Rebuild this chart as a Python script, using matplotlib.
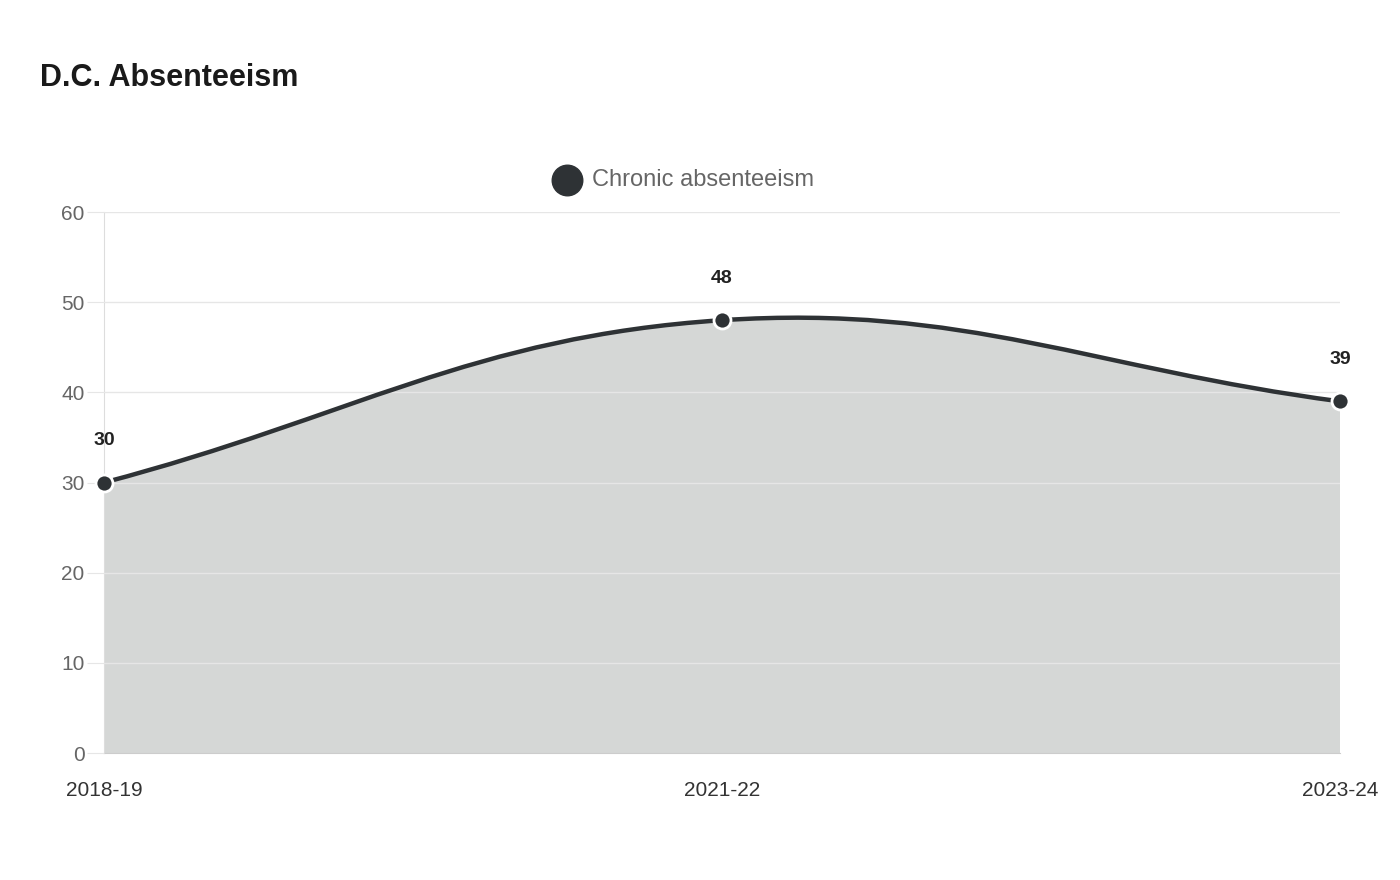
import matplotlib
matplotlib.use("Agg")
import matplotlib.pyplot as plt
import numpy as np
from matplotlib.path import Path
from matplotlib.patches import PathPatch

categories = ["2018-19", "2021-22", "2023-24"]
values = [30, 48, 39]
series_name = "Chronic absenteeism"
title = "D.C. Absenteeism"

plt.rcParams['font.family'] = ['Liberation Sans', 'DejaVu Sans']
fig = plt.figure(figsize=(14, 8.8), dpi=100)
ax = fig.add_axes([104/1400, 127/880, 1236/1400, 541/880])
x = np.arange(len(categories))
ax.set_xlim(0, len(categories)-1)
ax.set_ylim(0, 60)
fig.canvas.draw()

# Chart.js style bezier (tension 0.4) in display space
pts = ax.transData.transform(np.column_stack([x, values]))
t = 0.4
n = len(pts)
cps = []
for i in range(n):
    prev = pts[max(i-1, 0)]; cur = pts[i]; nxt = pts[min(i+1, n-1)]
    d01 = np.hypot(*(cur-prev)); d12 = np.hypot(*(nxt-cur))
    tot = d01 + d12
    s01 = d01/tot if tot else 0; s12 = d12/tot if tot else 0
    cps.append((cur - t*s01*(nxt-prev), cur + t*s12*(nxt-prev)))
verts = [pts[0]]; codes = [Path.MOVETO]
for i in range(n-1):
    verts += [cps[i][1], cps[i+1][0], pts[i+1]]
    codes += [Path.CURVE4]*3
inv = ax.transData.inverted()
dverts = inv.transform(np.array(verts))
line_path = Path(dverts, codes)
fill_verts = list(dverts) + [[x[-1], 0], [x[0], 0], dverts[0]]
fill_codes = codes + [Path.LINETO, Path.LINETO, Path.CLOSEPOLY]
ax.add_patch(PathPatch(Path(fill_verts, fill_codes), facecolor="#d5d7d6", edgecolor="none", zorder=1))
ax.add_patch(PathPatch(line_path, facecolor="none", edgecolor="#2e3235", lw=3.2, zorder=3, capstyle="round"))
ax.scatter(x, values, s=150, color="#2e3235", edgecolor="white", linewidth=2, zorder=4, clip_on=False)
for xi, v in zip(x, values):
    ax.annotate(str(v), (xi, v), xytext=(0, 24), textcoords="offset points",
                ha="center", va="bottom", fontsize=14, fontweight="bold", color="#222222")

ax.set_yticks(range(0, 61, 10))
ax.set_xticks(x)
ax.set_xticklabels(categories)
ax.grid(axis="y", color="#e6e6e6", lw=1, zorder=2)
ax.set_axisbelow(False)
for s in ["top", "right"]:
    ax.spines[s].set_visible(False)
ax.spines["bottom"].set_color("#cccccc")
ax.spines["left"].set_color("#dddddd")
ax.tick_params(axis="y", length=12, color="#e6e6e6", labelsize=15, labelcolor="#666666", pad=2)
ax.tick_params(axis="x", length=0, labelsize=15, labelcolor="#333333", pad=20)
ax.yaxis.get_gridlines()[0].set_visible(False)

fig.text(40/1400, 1-78/880, title, fontsize=22, fontweight="bold", color="#1a1a1a", va="center")
fig.patches.append(matplotlib.patches.Circle((567/1400, 1-180/880), 0, transform=fig.transFigure))
fig.lines.append(matplotlib.lines.Line2D([567/1400], [1-180/880], marker="o", markersize=22,
                 color="#2e3235", transform=fig.transFigure))
fig.text(592/1400, 1-180/880, series_name, fontsize=17, color="#666666", va="center")
fig.savefig("out.png", dpi=100, facecolor="white")
